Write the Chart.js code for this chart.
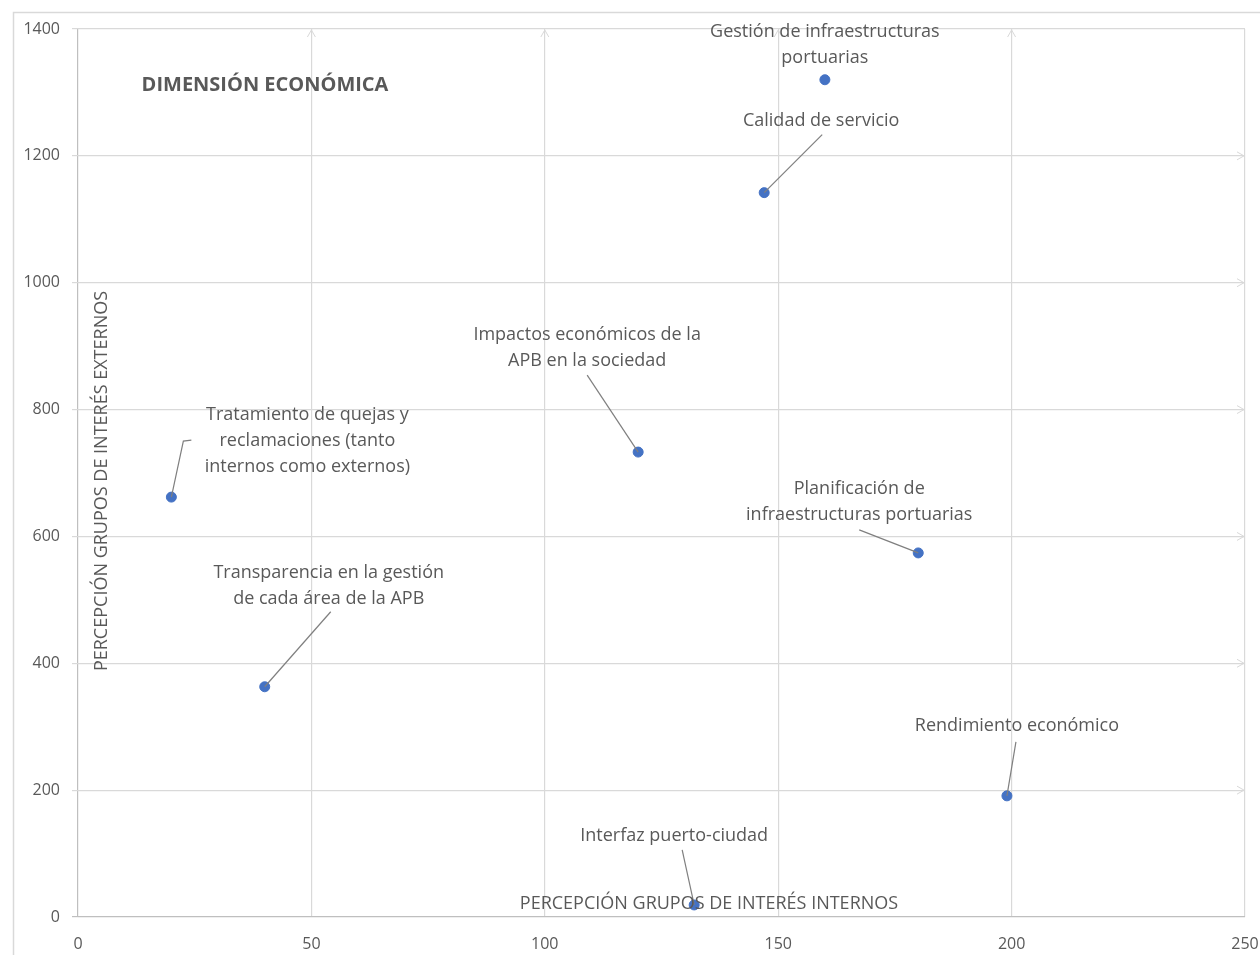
<!DOCTYPE html>
<html>
<head>
<meta charset="utf-8">
<script src="https://cdn.jsdelivr.net/npm/chart.js@4/dist/chart.umd.min.js"></script>
<style>
  html, body { margin: 0; padding: 0; background: #ffffff; }
  #wrap { width: 1260px; height: 955px; position: relative; }
</style>
</head>
<body>
<div id="wrap"><canvas id="chart"></canvas></div>
<script>
// data
const topics = [
    ['Gestión de infraestructuras', 'portuarias'],
    ['Calidad de servicio'],
    ['Impactos económicos de la', 'APB en la sociedad'],
    ['Tratamiento de quejas y', 'reclamaciones (tanto', 'internos como externos)'],
    ['Planificación de', 'infraestructuras portuarias'],
    ['Transparencia en la gestión', 'de cada área de la APB'],
    ['Rendimiento económico'],
    ['Interfaz puerto-ciudad'],
];
const internalScores = [160, 147, 120, 20, 180, 40, 199, 132];
const externalScores = [1320, 1142, 733, 662, 574, 363, 191, 19];
const xTicks = [0, 50, 100, 150, 200, 250];
const yTicks = [0, 200, 400, 600, 800, 1000, 1200, 1400];

const chartTitle = 'DIMENSIÓN ECONÓMICA';
const xTitle = 'PERCEPCIÓN GRUPOS DE INTERÉS INTERNOS';
const yTitle = 'PERCEPCIÓN GRUPOS DE INTERÉS EXTERNOS';

// label placement, pixels relative to each point
const labelOffsets = [
    { dx: 0, dy: -48, leader: null },
    { dx: 57, dy: -72, leader: [[58, -58]] },
    { dx: -51, dy: -117, leader: [[-51, -77]] },
    { dx: 136, dy: -82, leader: [[20, -57], [12, -56]] },
    { dx: -59, dy: -64, leader: [[-59, -23]] },
    { dx: 64, dy: -114, leader: [[66, -75]] },
    { dx: 10, dy: -70, leader: [[9, -54]] },
    { dx: -20, dy: -69, leader: [[-12, -55]] },
];

const FONT = '"Open Sans", "Noto Sans", sans-serif';
const TEXT = '#595959';
const GRID = '#d9d9d9';

const decorations = {
    id: 'decorations',
    beforeDraw(chart) {
        const { ctx } = chart;
        ctx.save();
        ctx.fillStyle = '#ffffff';
        ctx.fillRect(0, 0, chart.width, chart.height);
        ctx.strokeStyle = GRID;
        ctx.lineWidth = 1.5;
        ctx.strokeRect(13.5, 12.5, chart.width, chart.height);
        ctx.restore();
    },
    afterDatasetsDraw(chart) {
        const { ctx, chartArea: area, scales: { x, y } } = chart;
        ctx.save();

        // arrow heads on the grid lines
        ctx.strokeStyle = GRID;
        ctx.lineWidth = 1;
        xTicks.slice(1, -1).forEach((v) => {
            const px = x.getPixelForValue(v);
            ctx.beginPath();
            ctx.moveTo(px - 4, area.top + 8);
            ctx.lineTo(px, area.top + 1);
            ctx.lineTo(px + 4, area.top + 8);
            ctx.stroke();
        });
        yTicks.slice(1, -1).forEach((v) => {
            const py = y.getPixelForValue(v);
            ctx.beginPath();
            ctx.moveTo(area.right - 8, py - 4);
            ctx.lineTo(area.right - 1, py);
            ctx.lineTo(area.right - 8, py + 4);
            ctx.stroke();
        });

        // leader lines
        ctx.strokeStyle = '#7f7f7f';
        ctx.lineWidth = 1.2;
        internalScores.forEach((v, i) => {
            const off = labelOffsets[i];
            if (!off.leader) return;
            const px = x.getPixelForValue(v);
            const py = y.getPixelForValue(externalScores[i]);
            ctx.beginPath();
            off.leader.forEach(([lx, ly], k) => {
                if (k === 0) ctx.moveTo(px + lx, py + ly);
                else ctx.lineTo(px + lx, py + ly);
            });
            ctx.lineTo(px, py);
            ctx.stroke();
        });

        // point labels
        ctx.fillStyle = TEXT;
        ctx.font = '18px ' + FONT;
        ctx.textAlign = 'center';
        ctx.textBaseline = 'middle';
        internalScores.forEach((v, i) => {
            const off = labelOffsets[i];
            const px = x.getPixelForValue(v);
            const py = y.getPixelForValue(externalScores[i]);
            topics[i].forEach((line, k) => {
                ctx.fillText(line, px + off.dx, py + off.dy + k * 26);
            });
        });

        // titles
        ctx.font = 'bold 20px ' + FONT;
        ctx.fillText(chartTitle, 265, 85);

        ctx.font = '18px ' + FONT;
        ctx.fillText(xTitle, 709, 904);

        ctx.translate(102, 481);
        ctx.rotate(-Math.PI / 2);
        ctx.fillText(yTitle, 0, 0);

        ctx.restore();
    },
};

new Chart(document.getElementById('chart'), {
    type: 'scatter',
    data: {
        datasets: [
            {
                data: internalScores.map((v, i) => ({ x: v, y: externalScores[i] })),
                backgroundColor: '#4472c4',
                borderColor: '#4472c4',
                pointRadius: 5,
                pointHoverRadius: 5,
            },
        ],
    },
    options: {
        responsive: true,
        maintainAspectRatio: false,
        animation: false,
        layout: {
            padding: { top: 29, right: 15, left: 0, bottom: 0 },
        },
        plugins: {
            legend: { display: false },
            tooltip: { enabled: false },
        },
        scales: {
            x: {
                type: 'linear',
                min: 0,
                max: 250,
                afterBuildTicks: (axis) => {
                    axis.ticks = xTicks.map((value) => ({ value }));
                },
                afterFit: (axis) => {
                    axis.height = 38;
                    // let the last label run off the edge like the original
                    axis.paddingLeft = 0;
                    axis.paddingRight = 0;
                },
                ticks: {
                    color: TEXT,
                    font: { family: FONT, size: 16 },
                    padding: 18,
                    maxRotation: 0,
                    callback: (value) => String(value),
                },
                grid: {
                    color: (c) => (c.tick && c.tick.value === 0 ? '#bfbfbf' : GRID),
                    lineWidth: 1.2,
                    tickLength: 0,
                },
                border: { display: false },
            },
            y: {
                type: 'linear',
                min: 0,
                max: 1400,
                afterBuildTicks: (axis) => {
                    axis.ticks = yTicks.map((value) => ({ value }));
                },
                afterFit: (axis) => {
                    axis.width = 78;
                    axis.paddingTop = 0;
                    axis.paddingBottom = 0;
                },
                ticks: {
                    color: TEXT,
                    font: { family: FONT, size: 16 },
                    padding: 12,
                    callback: (value) => String(value),
                },
                grid: {
                    color: (c) => (c.tick && c.tick.value === 0 ? '#bfbfbf' : GRID),
                    lineWidth: 1.2,
                    tickLength: 6,
                },
                border: { display: false },
            },
        },
    },
    plugins: [decorations],
});
</script>
</body>
</html>
